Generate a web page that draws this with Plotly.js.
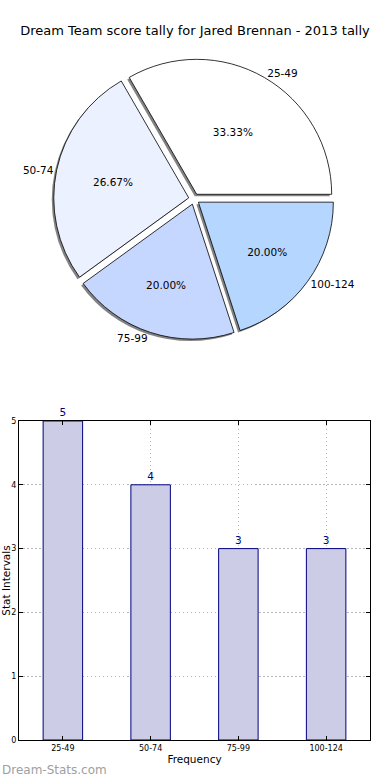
<!DOCTYPE html>
<html>
<head>
<meta charset="utf-8">
<script src="https://cdn.plot.ly/plotly-3.0.1.min.js"></script>
<style>html,body{margin:0;padding:0;background:#fff;}#chart{width:390px;height:780px;}</style>
</head>
<body>
<div id="chart"></div>
<script>
// Data
const categories = ['25-49', '50-74', '75-99', '100-124'];
const counts = [5, 4, 3, 3];
const pieColors = ['#ffffff', '#ebf1ff', '#c6d7ff', '#b4d6ff'];
const chartTitle = 'Dream Team score tally for Jared Brennan - 2013 tally';
const yTicks = [0, 1, 2, 3, 4, 5];

const FONT = 'DejaVu Sans, Liberation Sans, sans-serif';
const pull = categories.map(() => 0.04);
const rot = -30;
const pieDomain = {x: [0.0986, 0.8986], y: [0.5414, 0.9208]};
const dx = -2 / 351, dy = -2 / 740;

const shadow = {
  type: 'pie', values: counts, labels: categories, sort: false,
  direction: 'counterclockwise', rotation: rot, pull: pull,
  domain: {x: [pieDomain.x[0] + dx, pieDomain.x[1] + dx], y: [pieDomain.y[0] + dy, pieDomain.y[1] + dy]},
  marker: {colors: categories.map(() => 'rgba(90,90,90,0.75)'), line: {width: 0}},
  textinfo: 'none', hoverinfo: 'skip', showlegend: false
};
const pie = {
  type: 'pie', values: counts, labels: categories, sort: false,
  direction: 'counterclockwise', rotation: rot, pull: pull,
  domain: pieDomain,
  marker: {colors: pieColors, line: {color: '#000000', width: 0.8}},
  texttemplate: '%{percent:.2%}', textposition: 'inside', insidetextorientation: 'horizontal',
  insidetextfont: {family: FONT, size: 10.5, color: '#000000'},
  hoverinfo: 'label+percent', showlegend: false
};
const pieLabels = {
  type: 'pie', values: counts, labels: categories, sort: false,
  direction: 'counterclockwise', rotation: rot, pull: pull,
  domain: pieDomain,
  marker: {colors: categories.map(() => 'rgba(0,0,0,0)'), line: {width: 0}},
  texttemplate: '%{label}', textposition: 'outside',
  outsidetextfont: {family: FONT, size: 10.5, color: '#000000'},
  hoverinfo: 'skip', showlegend: false
};
const bars = {
  type: 'bar', x: categories, y: counts, width: 0.45,
  marker: {color: '#ccccE6', line: {color: '#000080', width: 1}},
  text: counts.map(String), textposition: 'outside', cliponaxis: false,
  textfont: {family: FONT, size: 10.5, color: '#000080'},
  xaxis: 'x', yaxis: 'y', showlegend: false
};

const gridStyle = {showgrid: true, gridcolor: '#b8b8b8', griddash: '1.5px,2.5px', gridwidth: 1};
const layout = {
  width: 390, height: 780,
  margin: {l: 19, r: 20, t: 0, b: 40},
  paper_bgcolor: '#ffffff', plot_bgcolor: '#ffffff',
  font: {family: FONT, color: '#000000'},
  title: {text: chartTitle, x: 0.5, xanchor: 'center', y: 1 - 30 / 780, yanchor: 'middle',
          font: {family: FONT, size: 13, color: '#000000'}},
  xaxis: Object.assign({
    domain: [0, 1], range: [-0.5, 3.5], type: 'category', layer: 'above traces',
    showline: true, linecolor: '#000000', linewidth: 1, mirror: 'ticks',
    ticks: 'inside', ticklen: 4, tickcolor: '#000000',
    tickfont: {family: FONT, size: 8}, zeroline: false,
    title: {text: 'Frequency', font: {family: FONT, size: 10.5}, standoff: 4}
  }, gridStyle),
  yaxis: Object.assign({
    domain: [0, 0.4311], range: [0, 5], tickvals: yTicks, layer: 'above traces',
    showline: true, linecolor: '#000000', linewidth: 1, mirror: 'ticks',
    ticks: 'inside', ticklen: 4, tickcolor: '#000000',
    tickfont: {family: FONT, size: 8}, zeroline: false,
    title: {text: 'Stat Intervals', font: {family: FONT, size: 10.5}, standoff: 4}
  }, gridStyle),
  annotations: [{
    text: 'Dream-Stats.com', xref: 'paper', yref: 'paper', x: -19 / 351, y: -40 / 740,
    xanchor: 'left', yanchor: 'bottom', showarrow: false, yshift: 1,
    font: {family: FONT, size: 12, color: '#a0a0a0'}
  }]
};

Plotly.newPlot('chart', [shadow, pie, pieLabels, bars], layout, {displayModeBar: false, staticPlot: true});
</script>
</body>
</html>
